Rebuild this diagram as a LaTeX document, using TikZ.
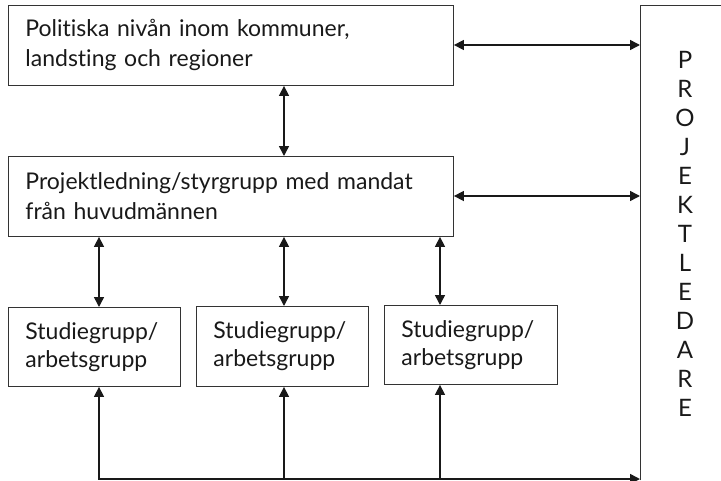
\documentclass[tikz,border=0pt]{standalone}
\usepackage{fontspec}
\setmainfont{Lato}[Ligatures=NoCommon]
\usetikzlibrary{arrows.meta}
\begin{document}
\begin{tikzpicture}[x=1pt,y=-1pt,
  box/.style={draw=black!80, line width=0.9pt, rectangle, anchor=north west,
    inner xsep=17pt, inner ysep=0pt, align=left, text=black!90},
  bigbox/.style={box, text width=411pt, minimum height=80pt, font=\fontsize{23}{30}\selectfont},
  smallbox/.style={box, text width=138pt, minimum height=79pt, font=\fontsize{23}{28}\selectfont},
  both/.style={line width=1.5pt, black!90, {Triangle[length=10pt,width=10pt]}-{Triangle[length=10pt,width=10pt]}},
  one/.style={line width=1.5pt, black!90, -{Triangle[length=10pt,width=10pt]}}
]
\useasboundingbox (0,0) rectangle (721,480);
% right box (project leader), open at right and bottom
\node[anchor=north west, minimum width=90pt, minimum height=475pt, inner sep=0pt] (pl) at (640,5) {};
\draw[black!80, line width=0.9pt] (pl.south west) -- (pl.north west) -- (721,5);
\node[anchor=north, align=center, inner sep=0pt, font=\fontsize{24}{29}\selectfont, text=black!90] (pltext) at (685,51)
  {P\\R\\O\\J\\E\\K\\T\\L\\E\\D\\A\\R\\E};

\node[bigbox] (top) at (8,5) {Politiska nivån inom kommuner,\\landsting och regioner};
\node[bigbox] (mid) at (8,156) {Projektledning/styrgrupp med mandat\\från huvudmännen};

\node[smallbox] (s1) at (8,307) {Studiegrupp/\\arbetsgrupp};
\node[smallbox, minimum height=80pt] (s2) at (196,306) {Studiegrupp/\\arbetsgrupp};
\node[smallbox, text width=139pt] (s3) at (384,305) {Studiegrupp/\\arbetsgrupp};

% horizontal links to project leader
\draw[both] (top.east |- 0,45) -- (pl.west |- 0,45);
\draw[both] (mid.east |- 0,196) -- (pl.west |- 0,196);

% vertical links
\draw[both] (top.south -| 284,0) -- (mid.north -| 284,0);
\draw[both] (mid.south -| 99,0) -- (s1.north -| 99,0);
\draw[both] (mid.south -| 284,0) -- (s2.north -| 284,0);
\draw[both] (mid.south -| 440,0) -- (s3.north -| 440,0);

% bottom bus
\coordinate (b1) at (99,479);
\coordinate (b2) at (284,479);
\coordinate (b3) at (440,479);
\draw[one] (b1) -- (s1.south -| b1);
\draw[one] (b2) -- (s2.south -| b2);
\draw[one] (b3) -- (s3.south -| b3);
\draw[one] ([xshift=-0.75pt]b1) -- (pl.west |- b1);
\end{tikzpicture}
\end{document}
